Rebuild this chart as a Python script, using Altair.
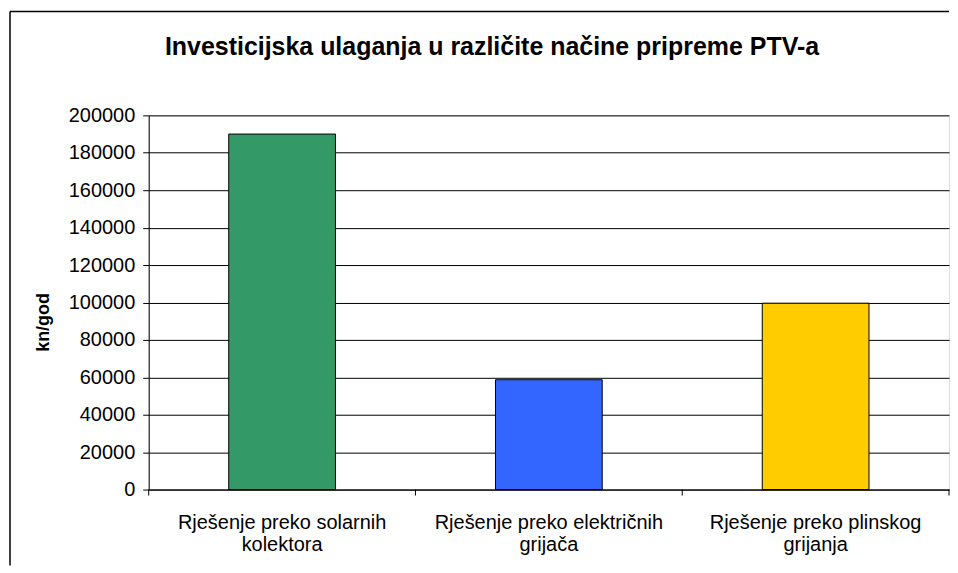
import altair as alt
import pandas as pd

categories = [
    "Rješenje preko solarnih kolektora",
    "Rješenje preko električnih grijača",
    "Rješenje preko plinskog grijanja",
]
values = [190000, 58700, 99600]
colors = ["#339966", "#3366FF", "#FFCC00"]
y_ticks = [0, 20000, 40000, 60000, 80000, 100000, 120000, 140000, 160000, 180000, 200000]
boundaries = [0, 1, 2, 3]

W = 802
H = 375
FONT = "Liberation Sans"

df = pd.DataFrame({"cat": categories, "val": values})
tick_df = pd.DataFrame({"b": boundaries})
one = pd.DataFrame({"k": [0]})

bars = alt.Chart(df).mark_bar(stroke="black", strokeWidth=1).encode(
    x=alt.X(
        "cat:N",
        sort=None,
        scale=alt.Scale(paddingInner=0.6, paddingOuter=0.3),
        axis=alt.Axis(
            title=None,
            labelAngle=0,
            labelFont=FONT,
            labelFontSize=20,
            labelColor="black",
            labelLineHeight=22,
            labelPadding=23,
            labelLimit=400,
            ticks=False,
            tickSize=0,
            domainColor="black",
            domainWidth=1,
            grid=False,
            labelExpr="[slice(datum.label, 0, lastindexof(datum.label, ' ')), slice(datum.label, lastindexof(datum.label, ' ') + 1)]",
        ),
    ),
    y=alt.Y(
        "val:Q",
        scale=alt.Scale(domain=[0, 200000], nice=False),
        axis=alt.Axis(
            title="kn/god",
            titleFont=FONT,
            titleFontSize=18,
            titleFontWeight="bold",
            titleColor="black",
            titlePadding=16,
            titleY=207,
            values=y_ticks,
            format="d",
            labelFont=FONT,
            labelFontSize=20,
            labelColor="black",
            labelPadding=8,
            tickSize=6,
            tickColor="black",
            domainColor="black",
            gridColor="black",
            gridWidth=1,
        ),
    ),
    color=alt.Color("cat:N", sort=None, scale=alt.Scale(domain=categories, range=colors), legend=None),
)

xticks = alt.Chart(tick_df).mark_rule(color="black", strokeWidth=1).encode(
    x=alt.X("b:Q", scale=alt.Scale(domain=[0, 3], nice=False, zero=False), axis=None),
    y=alt.value(H),
    y2=alt.value(H + 6),
)

border_top = alt.Chart(one).mark_rule(color="black", strokeWidth=1.5).encode(
    x=alt.value(-139), x2=alt.value(W), y=alt.value(-104)
)
border_left = alt.Chart(one).mark_rule(color="black", strokeWidth=1.5).encode(
    x=alt.value(-139), y=alt.value(-104), y2=alt.value(H + 76)
)

chart = (
    alt.layer(bars, xticks, border_top, border_left)
    .resolve_scale(x="independent")
    .properties(
        width=W,
        height=H,
        padding={"left": 1, "top": 2, "right": 0, "bottom": 0},
        title=alt.Title(
            "Investicijska ulaganja u različite načine pripreme PTV-a",
            font=FONT,
            fontSize=25,
            fontWeight="bold",
            color="black",
            anchor="middle",
            frame="group",
            dx=-57,
            baseline="alphabetic",
            offset=-69,
        ),
    )
    .configure_view(fill="#C0C0C0", stroke="#808080", strokeWidth=1)
    .configure(background="white")
)

chart.save("out.html", embed_options={"renderer": "svg", "actions": False})
